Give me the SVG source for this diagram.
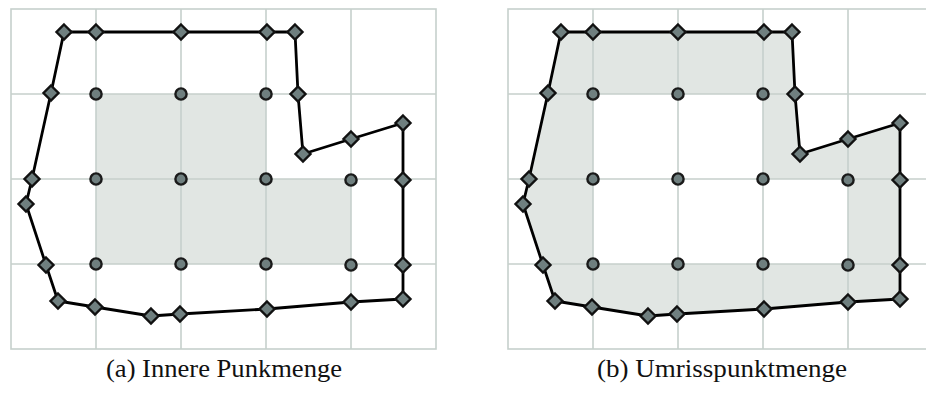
<svg xmlns="http://www.w3.org/2000/svg" xmlns:xlink="http://www.w3.org/1999/xlink" width="926" height="394" viewBox="0 0 926 394">
<style>
.grid{fill:none;stroke:#c6d0cc;stroke-width:1.6}
.area{fill:#e1e6e3;stroke:none}
.outline{fill:none;stroke:#000;stroke-width:2.8;stroke-linejoin:round}
.dia{fill:#6f7f7f;stroke:#111;stroke-width:2.4;stroke-linejoin:miter}
.dot{fill:#6f7f7f;stroke:#1a1a1a;stroke-width:2.4}
text.cap{fill:#111}
</style>
<defs>
<polygon id="d" class="dia" points="0,-7.5 7.5,0 0,7.5 -7.5,0"/>
<circle id="c" class="dot" r="5.6"/>
</defs>

<!-- Panel (a) -->
<g id="panelA">
<path class="area" d="M96,94 H266 V179 H351 V264 H96 Z"/>
<g class="grid">
<rect x="11" y="9" width="425" height="340"/>
<path d="M96,9 V349 M181,9 V349 M266,9 V349 M351,9 V349 M11,94 H436 M11,179 H436 M11,264 H436"/>
</g>
<g id="connectorsA">
<polygon class="outline" points="64,32 96,32 181,32 267,32 295,32 298,94 303,154 351,139 403,123 403,180 403,265 403,299 351,302 267,309 180,314 151,316 95,307 58,301 46,265 26,204 32,179 51,93"/>
</g>
<g id="a-inner">
<g id="a-c1"><use href="#c" x="96" y="94"/></g>
<g id="a-c2"><use href="#c" x="181" y="94"/></g>
<g id="a-c3"><use href="#c" x="266" y="94"/></g>
<g id="a-c4"><use href="#c" x="96" y="179"/></g>
<g id="a-c5"><use href="#c" x="181" y="179"/></g>
<g id="a-c6"><use href="#c" x="266" y="179"/></g>
<g id="a-c7"><use href="#c" x="351" y="180"/></g>
<g id="a-c8"><use href="#c" x="96" y="264"/></g>
<g id="a-c9"><use href="#c" x="181" y="264"/></g>
<g id="a-c10"><use href="#c" x="266" y="264"/></g>
<g id="a-c11"><use href="#c" x="351" y="265"/></g>
</g>
<g id="a-outline">
<g id="a-d1"><use href="#d" x="64" y="32"/></g>
<g id="a-d2"><use href="#d" x="96" y="32"/></g>
<g id="a-d3"><use href="#d" x="181" y="32"/></g>
<g id="a-d4"><use href="#d" x="267" y="32"/></g>
<g id="a-d5"><use href="#d" x="295" y="32"/></g>
<g id="a-d6"><use href="#d" x="298" y="94"/></g>
<g id="a-d7"><use href="#d" x="303" y="154"/></g>
<g id="a-d8"><use href="#d" x="351" y="139"/></g>
<g id="a-d9"><use href="#d" x="403" y="123"/></g>
<g id="a-d10"><use href="#d" x="403" y="180"/></g>
<g id="a-d11"><use href="#d" x="403" y="265"/></g>
<g id="a-d12"><use href="#d" x="403" y="299"/></g>
<g id="a-d13"><use href="#d" x="351" y="302"/></g>
<g id="a-d14"><use href="#d" x="267" y="309"/></g>
<g id="a-d15"><use href="#d" x="180" y="314"/></g>
<g id="a-d16"><use href="#d" x="151" y="316"/></g>
<g id="a-d17"><use href="#d" x="95" y="307"/></g>
<g id="a-d18"><use href="#d" x="58" y="301"/></g>
<g id="a-d19"><use href="#d" x="46" y="265"/></g>
<g id="a-d20"><use href="#d" x="26" y="204"/></g>
<g id="a-d21"><use href="#d" x="32" y="179"/></g>
<g id="a-d22"><use href="#d" x="51" y="93"/></g>
</g>
<text class="cap" x="106" y="377" font-family="'Liberation Serif', serif" font-size="25" textLength="236" lengthAdjust="spacingAndGlyphs">(a)  Innere Punkmenge</text>
</g>

<!-- Panel (b) -->
<g id="panelB" transform="translate(497,0)">
<path class="area" fill-rule="evenodd" d="M64,32 L96,32 181,32 267,32 295,32 298,94 303,154 351,139 403,123 403,180 403,265 403,299 351,302 267,309 180,314 151,316 95,307 58,301 46,265 26,204 32,179 51,93 Z M96,94 H266 V179 H351 V264 H96 Z"/>
<g class="grid">
<rect x="11" y="9" width="440" height="340"/>
<path d="M96,9 V349 M181,9 V349 M266,9 V349 M351,9 V349 M11,94 H440 M11,179 H440 M11,264 H440"/>
</g>
<g id="connectorsB">
<polygon class="outline" points="64,32 96,32 181,32 267,32 295,32 298,94 303,154 351,139 403,123 403,180 403,265 403,299 351,302 267,309 180,314 151,316 95,307 58,301 46,265 26,204 32,179 51,93"/>
</g>
<g id="b-inner">
<g id="b-c1"><use href="#c" x="96" y="94"/></g>
<g id="b-c2"><use href="#c" x="181" y="94"/></g>
<g id="b-c3"><use href="#c" x="266" y="94"/></g>
<g id="b-c4"><use href="#c" x="96" y="179"/></g>
<g id="b-c5"><use href="#c" x="181" y="179"/></g>
<g id="b-c6"><use href="#c" x="266" y="179"/></g>
<g id="b-c7"><use href="#c" x="351" y="180"/></g>
<g id="b-c8"><use href="#c" x="96" y="264"/></g>
<g id="b-c9"><use href="#c" x="181" y="264"/></g>
<g id="b-c10"><use href="#c" x="266" y="264"/></g>
<g id="b-c11"><use href="#c" x="351" y="265"/></g>
</g>
<g id="b-outline">
<g id="b-d1"><use href="#d" x="64" y="32"/></g>
<g id="b-d2"><use href="#d" x="96" y="32"/></g>
<g id="b-d3"><use href="#d" x="181" y="32"/></g>
<g id="b-d4"><use href="#d" x="267" y="32"/></g>
<g id="b-d5"><use href="#d" x="295" y="32"/></g>
<g id="b-d6"><use href="#d" x="298" y="94"/></g>
<g id="b-d7"><use href="#d" x="303" y="154"/></g>
<g id="b-d8"><use href="#d" x="351" y="139"/></g>
<g id="b-d9"><use href="#d" x="403" y="123"/></g>
<g id="b-d10"><use href="#d" x="403" y="180"/></g>
<g id="b-d11"><use href="#d" x="403" y="265"/></g>
<g id="b-d12"><use href="#d" x="403" y="299"/></g>
<g id="b-d13"><use href="#d" x="351" y="302"/></g>
<g id="b-d14"><use href="#d" x="267" y="309"/></g>
<g id="b-d15"><use href="#d" x="180" y="314"/></g>
<g id="b-d16"><use href="#d" x="151" y="316"/></g>
<g id="b-d17"><use href="#d" x="95" y="307"/></g>
<g id="b-d18"><use href="#d" x="58" y="301"/></g>
<g id="b-d19"><use href="#d" x="46" y="265"/></g>
<g id="b-d20"><use href="#d" x="26" y="204"/></g>
<g id="b-d21"><use href="#d" x="32" y="179"/></g>
<g id="b-d22"><use href="#d" x="51" y="93"/></g>
</g>
<text class="cap" x="100" y="377" font-family="'Liberation Serif', serif" font-size="25" textLength="250" lengthAdjust="spacingAndGlyphs">(b)  Umrisspunktmenge</text>
</g>
</svg>
